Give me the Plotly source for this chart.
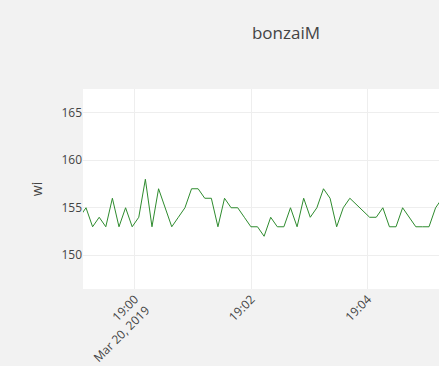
import pandas as pd
import plotly.graph_objects as go

start_time = "2019-03-20 18:59:02.7"
step_ms = 6800
wi_values = [154, 155, 153, 154, 153, 156, 153, 155, 153, 154, 158,
             153, 157, 155, 153, 154, 155, 157, 157, 156, 156,
             153, 156, 155, 155, 154, 153, 153, 152, 154, 153,
             153, 155, 153, 156, 154, 155, 157, 156, 153, 155,
             156, 155.3, 154.7, 154, 154, 155, 153, 153, 155, 154,
             153, 153, 153, 155, 156]
times = pd.date_range(start=start_time, periods=len(wi_values), freq=pd.Timedelta(milliseconds=step_ms))

x_range = ["2019-03-20 18:59:06.4", "2019-03-20 19:05:13.4"]
y_range = [146.45, 167.5]

fig = go.Figure()
fig.add_trace(go.Scatter(x=times, y=wi_values, mode="lines",
                         line=dict(color="#2e8b2e", width=1), name="wi"))

fig.update_layout(
    width=439, height=366,
    paper_bgcolor="#f2f2f2", plot_bgcolor="white",
    margin=dict(l=83, r=0, t=89, b=77),
    title=dict(text="bonzaiM", xref="container", x=286/439, xanchor="center",
               yref="container", y=1-33/366, yanchor="middle",
               font=dict(size=17, color="#444")),
    font=dict(family="Open Sans, Verdana, Arial, sans-serif", size=12, color="#444"),
    showlegend=False,
)
fig.update_xaxes(range=x_range, tickangle=-45, gridcolor="#eee", showline=False,
                 zeroline=False)
fig.update_yaxes(range=y_range, title_text="wi", gridcolor="#eee", zeroline=False,
                 dtick=5)

fig.write_html("out.html",
               config={"displayModeBar": False},
               post_script="document.body.style.margin='0';"
                           "document.body.style.overflow='hidden';"
                           "document.documentElement.style.overflow='hidden';")
